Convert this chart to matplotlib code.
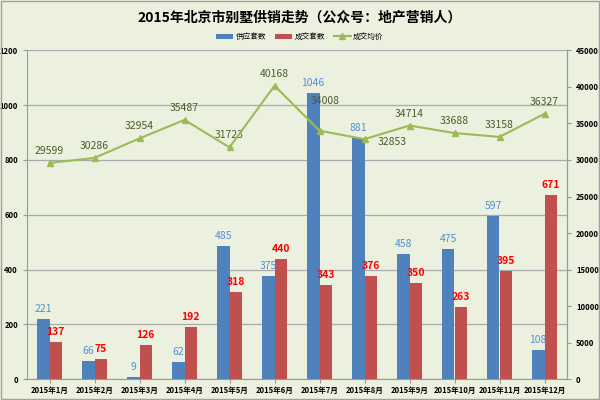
import matplotlib
matplotlib.use("Agg")
import matplotlib.pyplot as plt
import numpy as np

plt.rcParams['font.family'] = ['Noto Sans CJK SC', 'DejaVu Sans']

months = ['2015年1月', '2015年2月', '2015年3月', '2015年4月', '2015年5月', '2015年6月',
          '2015年7月', '2015年8月', '2015年9月', '2015年10月', '2015年11月', '2015年12月']
supply = [221, 66, 9, 62, 485, 375, 1046, 881, 458, 475, 597, 108]
deals = [137, 75, 126, 192, 318, 440, 343, 376, 350, 263, 395, 671]
price = [29599, 30286, 32954, 35487, 31723, 40168, 34008, 32853, 34714, 33688, 33158, 36327]

bg = '#EBF1DE'
fig = plt.figure(figsize=(6, 4), dpi=100, facecolor=bg)
ax = fig.add_axes([0.045, 0.052, 0.9, 0.822])
ax.set_facecolor(bg)
ax2 = ax.twinx()

x = np.arange(len(months))
w = 0.28
b1 = ax.bar(x - w / 2, supply, w, color='#4F81BD', label='供应套数', zorder=3)
b2 = ax.bar(x + w / 2, deals, w, color='#C0504D', label='成交套数', zorder=3)
for xi, v in zip(x, supply):
    ax.annotate(str(v), (xi - w / 2, v), xytext=(0, 10), textcoords='offset pixels',
                ha='center', va='center', color='#558ED5', fontsize=7.5)
for xi, v in zip(x, deals):
    ax.annotate(str(v), (xi + w / 2, v), xytext=(0, 10), textcoords='offset pixels',
                ha='center', va='center', color='#FF0000', fontsize=7.5, fontweight='bold')

ax.set_ylim(0, 1200)
ax.set_yticks(range(0, 1201, 200))
ax.set_xlim(-0.5, 11.5)
ax.set_xticks(x)
ax.set_xticklabels(months, fontsize=5.5, fontweight='bold')
ax.tick_params(axis='y', labelsize=5.5, length=3, color='#999999')
ax.tick_params(axis='x', length=3, color='#999999', pad=2)
for lab in ax.get_yticklabels():
    lab.set_fontweight('bold')
ax.grid(axis='y', color='#AAAAAA', linewidth=0.9, zorder=0)
ax.set_axisbelow(True)
ax.spines['top'].set_visible(False)
for s in ['left', 'bottom', 'right']:
    ax.spines[s].set_color('#999999')
ax2.spines['top'].set_visible(False)
ax2.spines['right'].set_color('#999999')
ax2.spines['left'].set_visible(False)
ax2.spines['bottom'].set_visible(False)

l, = ax2.plot(x, price, color='#9BBB59', marker='^', markersize=4, linewidth=1.5, label='成交均价', zorder=4)
ax2.set_ylim(0, 45000)
ax2.set_yticks(range(0, 45001, 5000))
ax2.tick_params(axis='y', labelsize=5.5, length=3, color='#999999')
for lab in ax2.get_yticklabels():
    lab.set_fontweight('bold')

offsets = {6: (6, 30), 7: (28, -3)}
for xi, v in zip(x, price):
    dx, dy = offsets.get(xi, (0, 12))
    ax2.annotate(str(v), (xi, v), xytext=(dx, dy), textcoords='offset pixels',
                 ha='center', va='center', color='#4F5B2A', fontsize=7.5)

fig.text(0.5, 0.955, '2015年北京市别墅供销走势（公众号：地产营销人）', ha='center', va='center',
         fontsize=10, fontweight='bold')
fig.legend(handles=[b1, b2, l], labels=['供应套数', '成交套数', '成交均价'], loc='center',
           bbox_to_anchor=(0.5, 0.908), ncol=3, frameon=False, fontsize=5.5,
           handlelength=2.2, handleheight=0.6, columnspacing=1.2, handletextpad=0.3)

border = plt.Rectangle((0.002, 0.003), 0.996, 0.994, transform=fig.transFigure, fill=False,
                       edgecolor='#A0A0A0', linewidth=1)
fig.add_artist(border)
fig.savefig('out.png', dpi=100, facecolor=bg)
